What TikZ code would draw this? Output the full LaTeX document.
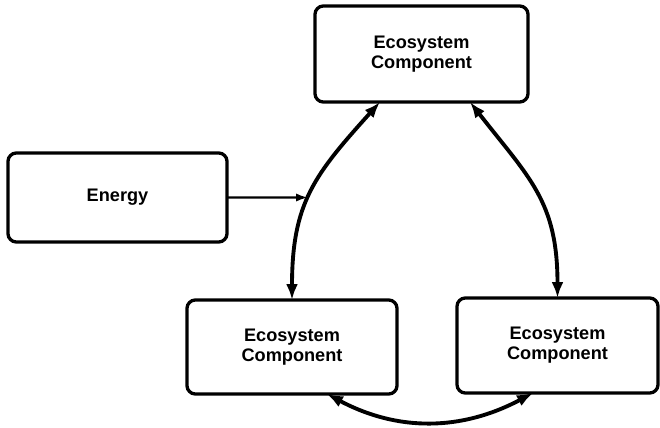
\documentclass[tikz,border=0pt]{standalone}
\usepackage{fontspec}
\setmainfont{Liberation Sans}
\usetikzlibrary{positioning}
\usetikzlibrary{arrows.meta}

\begin{document}
\begin{tikzpicture}
                [
                    component/.style = {rectangle, draw, line width=2.8pt, outer sep=0pt, text width=5cm, text centered, minimum width=6.3cm, minimum height=2.82cm, rounded corners=0.25cm, font=\bfseries\fontsize{15.5}{17}\selectfont},
                    source/.style = {component, minimum width=6.57cm, minimum height=2.67cm},
                    link/.style = {line width=3.3pt, {Latex[length=0.48cm,width=0.36cm]}-{Latex[length=0.48cm,width=0.36cm]}},
                    feed/.style = {line width=2pt, -{Latex[length=0.36cm,width=0.25cm]}}
                ]
                \useasboundingbox (0,0) rectangle (19.8,12.81);

                \node (top) [component, minimum width=6.39cm, minimum height=2.88cm] at (12.645,11.19) {Ecosystem\\Component};
                \node (bl) [component, below=5.94cm of top, xshift=-3.885cm] {Ecosystem\\Component};
                \node (br) [component, below=5.88cm of top, xshift=4.08cm, minimum width=6.03cm, minimum height=2.85cm] {Ecosystem\\Component};
                \node (energy) [source, left=2.64cm of top, yshift=-4.305cm] {Energy};

                \coordinate (hit) at (9.24,6.885);

                \draw[link] ([xshift=-1.245cm]top.south) to[out=228, in=90, looseness=1.15] (bl.north);
                \draw[link] ([xshift=1.455cm]top.south) to[out=-52, in=90, looseness=1.15] (br.north);
                \draw[link] ([xshift=1.05cm]bl.south) to[out=-28, in=208] ([xshift=-0.735cm]br.south);
                \draw[feed] (energy.east) -- (hit);

            \end{tikzpicture}
\end{document}
